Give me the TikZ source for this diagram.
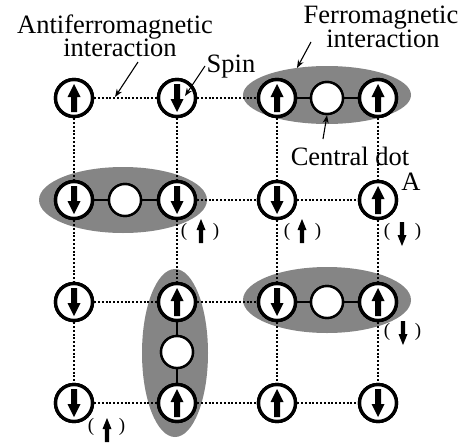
\documentclass[tikz,border=0pt]{standalone}
\usepackage{fontspec}
\setmainfont{Liberation Serif}
\usetikzlibrary{arrows.meta}
\tikzset{
  spin/.style={circle,draw=black,fill=white,line width=3.4pt,minimum size=37pt,inner sep=0pt},
  cdot/.style={circle,draw=black,fill=white,line width=2.4pt,minimum size=32pt,inner sep=0pt},
  ferro/.style={fill=black!48},
  dots/.style={line width=2.6pt,dash pattern=on 2pt off 1.8pt},
  bond/.style={line width=2pt},
  lbl/.style={font=\fontsize{26.5}{26.5}\selectfont,anchor=base,inner sep=0pt},
  par/.style={font=\fontsize{19}{19}\selectfont,inner sep=0pt},
  pointer/.style={line width=1.1pt,-{Stealth[length=8pt,width=6pt]}},
  upar/.pic={\fill (0,-14)--(6.5,-1)--(3,-1)--(3,14)--(-3,14)--(-3,-1)--(-6.5,-1)--cycle;},
  dnar/.pic={\fill (0,14)--(6.5,1)--(3,1)--(3,-14)--(-3,-14)--(-3,1)--(-6.5,1)--cycle;},
  upsm/.pic={\fill (0,-12)--(4.5,-1)--(2.2,-1)--(2.2,12)--(-2.2,12)--(-2.2,-1)--(-4.5,-1)--cycle;},
  dnsm/.pic={\fill (0,12)--(4.5,1)--(2.2,1)--(2.2,-12)--(-2.2,-12)--(-2.2,1)--(-4.5,1)--cycle;}
}
\begin{document}
\begin{tikzpicture}[x=1pt,y=-1pt]
\useasboundingbox (0,0) rectangle (468,442);
% ferromagnetic clusters
\fill[ferro] (327,95) ellipse [x radius=84,y radius=29];
\fill[ferro] (123,200) ellipse [x radius=84,y radius=33];
\fill[ferro] (327,300) ellipse [x radius=84,y radius=33];
\fill[ferro] (175,353) ellipse [x radius=33,y radius=84];
% spins
\foreach \r/\y in {1/98,2/200,3/302,4/403}{
  \foreach \c/\x in {1/74,2/177,3/277,4/378}{
    \node[spin] (s\r\c) at (\x,\y) {};
  }
}
% central dots
\node[cdot] (c1) at (327,98) {};
\node[cdot] (c2) at (125,200) {};
\node[cdot] (c3) at (327,302) {};
\node[cdot] (c4) at (177,352) {};
% bonds inside clusters
\draw[bond] (s13) -- (c1) -- (s14);
\draw[bond] (s21) -- (c2) -- (s22);
\draw[bond] (s33) -- (c3) -- (s34);
\draw[bond] (s32) -- (c4) -- (s42);
% antiferromagnetic dotted bonds
\draw[dots] (s11) -- (s12); \draw[dots] (s12) -- (s13);
\draw[dots] (s22) -- (s23); \draw[dots] (s23) -- (s24);
\draw[dots] (s31) -- (s32); \draw[dots] (s32) -- (s33);
\draw[dots] (s41) -- (s42); \draw[dots] (s42) -- (s43); \draw[dots] (s43) -- (s44);
\foreach \c in {1,3,4}{
  \draw[dots] (s1\c) -- (s2\c); \draw[dots] (s2\c) -- (s3\c); \draw[dots] (s3\c) -- (s4\c);
}
\draw[dots] (s12) -- (s22); \draw[dots] (s22) -- (s32);
% redraw spins on top
\foreach \r in {1,2,3,4}{
  \foreach \c in {1,2,3,4}{
    \node[spin] at (s\r\c) {};
  }
}
\node[cdot] at (c1) {};
\node[cdot] at (c2) {};
\node[cdot] at (c3) {};
\node[cdot] at (c4) {};
% spin arrows
\foreach \n in {s11,s13,s14,s24,s32,s34,s42,s43}{ \pic at (\n) {upar}; }
\foreach \n in {s12,s21,s22,s23,s31,s33,s41,s44}{ \pic at (\n) {dnar}; }
% bracketed spins
\node[par] (p1l) at (184,232) {(}; \pic at (201,231) {upsm}; \node[par] (p1r) at (216,232) {)};
\node[par] (p2l) at (287,232) {(}; \pic at (302,231) {upsm}; \node[par] (p2r) at (318,232) {)};
\node[par] (p3l) at (387,232) {(}; \pic at (402,234) {dnsm}; \node[par] (p3r) at (418,232) {)};
\node[par] (p4l) at (387,332) {(}; \pic at (403,333) {dnsm}; \node[par] (p4r) at (418,332) {)};
\node[par] (p5l) at (91,427) {(}; \pic at (107,430) {upsm}; \node[par] (p5r) at (122,427) {)};
% labels
\node[lbl] (af1) at (115,33) {Antiferromagnetic};
\node[lbl] (af2) at (120,56) {interaction};
\node[lbl] (fm1) at (381,23) {Ferromagnetic};
\node[lbl] (fm2) at (383,47) {interaction};
\node[lbl] (sp) at (231,72) {Spin};
\node[lbl] (cd) at (350,165) {Central dot};
\node[lbl] (A) at (411,190) {A};
% pointers
\coordinate (afs) at (138,62); \coordinate (afe) at (115,97);
\coordinate (sps) at (205,66); \coordinate (spe) at (185,96);
\coordinate (fms) at (311,42); \coordinate (fme) at (297,68);
\coordinate (cds) at (323,139);
\draw[pointer] (afs) -- (afe);
\draw[pointer] (sps) -- (spe);
\draw[pointer] (fms) -- (fme);
\draw[pointer] (cds) -- (c1.south);
\end{tikzpicture}
\end{document}
